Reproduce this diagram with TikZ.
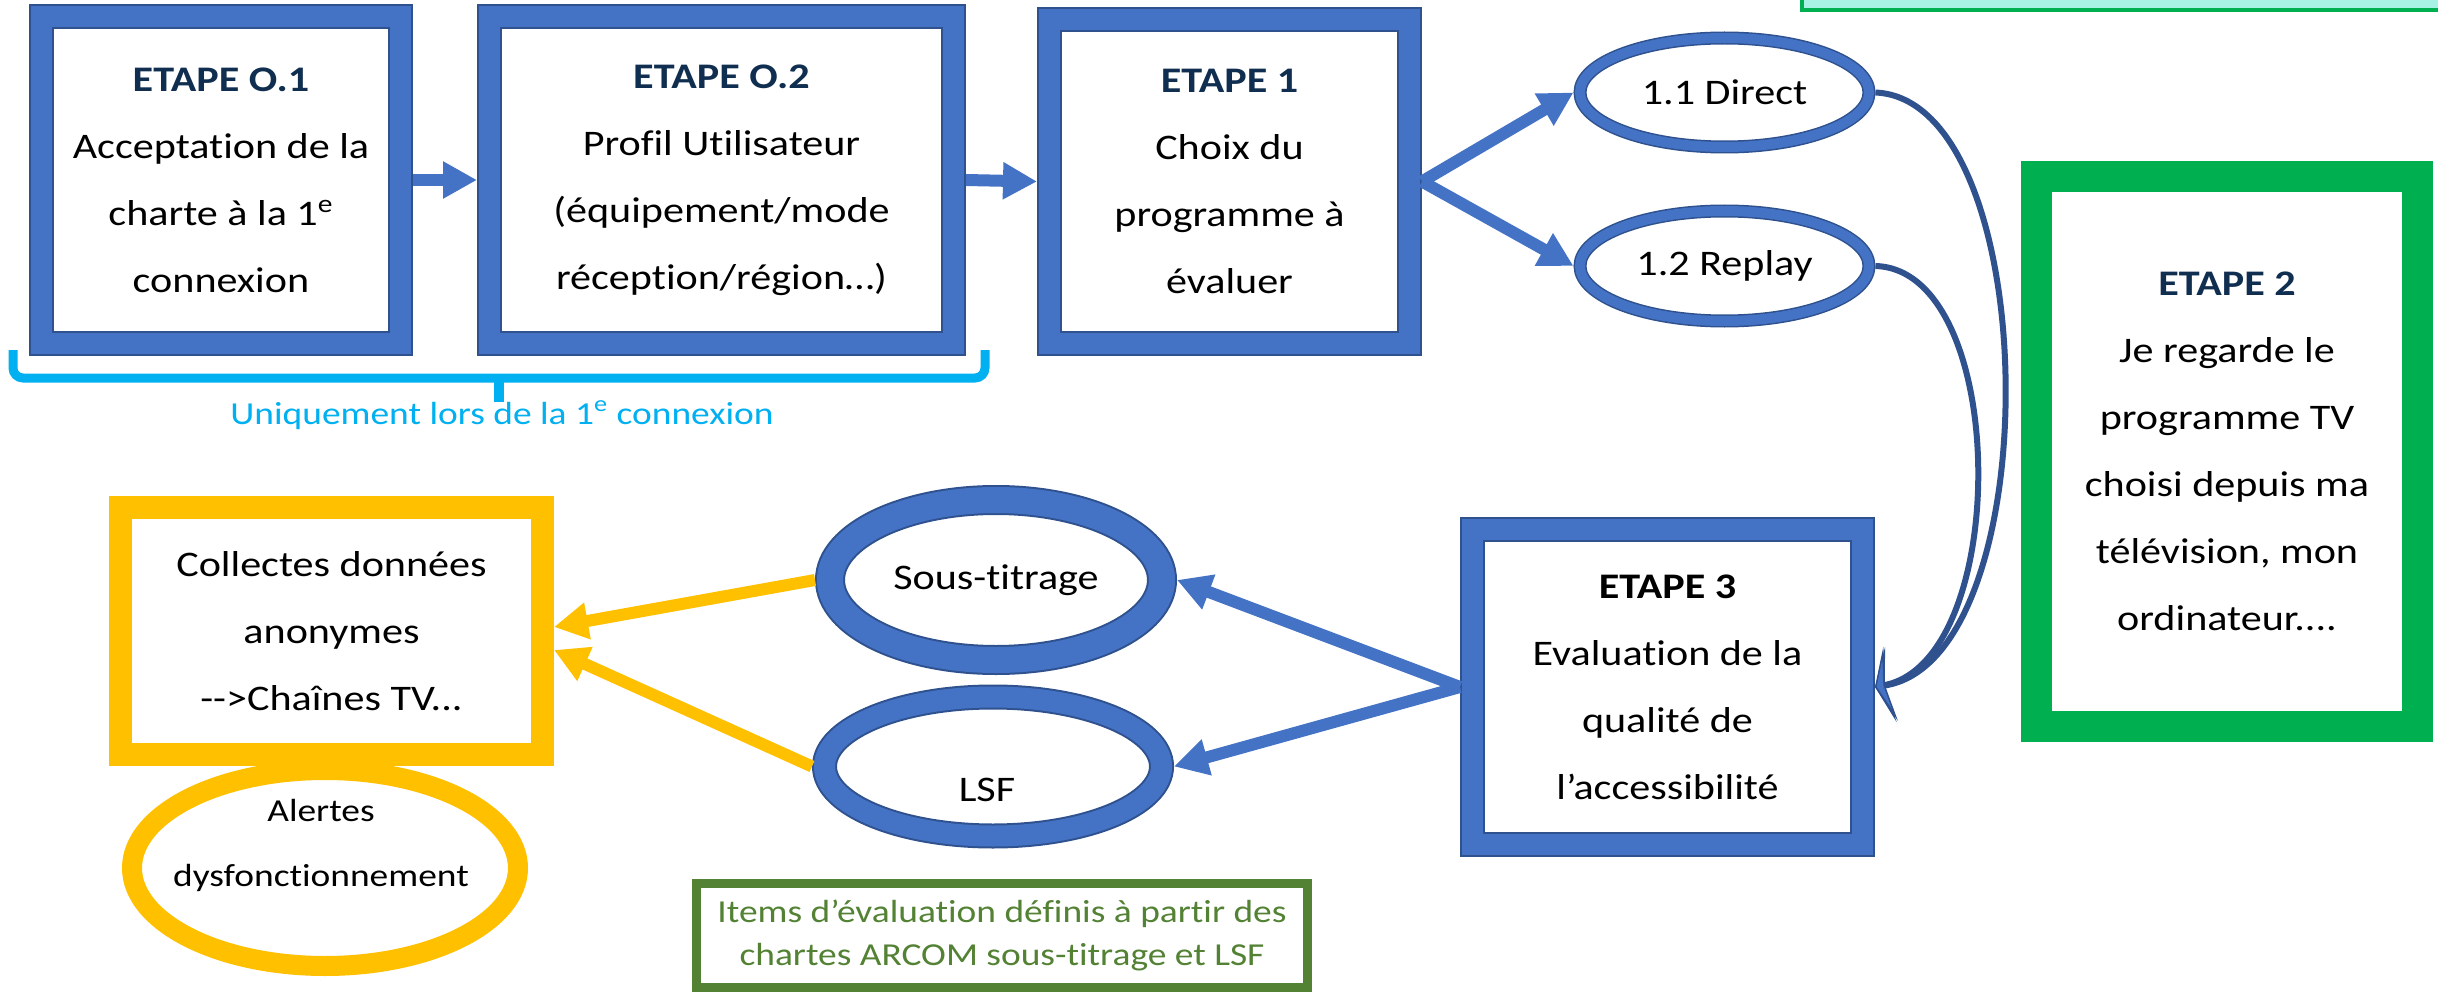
\documentclass[tikz,border=0pt]{standalone}
\usepackage{fontspec}
\setmainfont{Carlito}[FakeStretch=1.17,Ligatures=NoCommon]
\usetikzlibrary{arrows.meta,shapes.geometric}
\definecolor{bleu}{RGB}{68,114,196}
\definecolor{bleuF}{RGB}{47,82,143}
\definecolor{marine}{RGB}{16,46,80}
\definecolor{vert}{RGB}{0,176,80}
\definecolor{jaune}{RGB}{255,192,0}
\definecolor{ciel}{RGB}{0,176,240}
\definecolor{kaki}{RGB}{84,130,53}
\definecolor{turq}{RGB}{168,241,229}
\tikzset{
    TX/.style ={align=center,font=\fontsize{18}{33.5}\selectfont},
    TP/.style ={align=center,font=\fontsize{16}{32.5}\selectfont},
    BX/.style ={rectangle,TX,draw=bleuF,double=bleu,double distance=10.5pt,line width=1pt,outer sep=6.25pt},
    GX/.style ={rectangle,TX,draw=vert,line width=15.5pt},
    YX/.style ={rectangle,TX,draw=jaune,line width=11.5pt},
    EL1/.style ={ellipse,TX,inner sep=0pt,draw=bleuF,double=bleu,double distance=5pt,line width=0.75pt,outer sep=3.25pt},
    EL2/.style ={ellipse,TX,inner sep=0pt,draw=bleuF,double=bleu,double distance=13pt,line width=1pt,outer sep=7.5pt},
    EY/.style ={ellipse,inner sep=0pt,draw=jaune,line width=10pt},
    AR/.style ={draw=bleu,line width=6pt,-{Triangle[length=17pt,width=17.5pt]}},
    AY/.style ={draw=jaune,line width=6pt,-{Triangle[length=17pt,width=17.5pt]}},
    CU/.style ={draw=bleuF,line width=3pt,-{Stealth[length=8pt,width=38pt,inset=3pt,fill=bleu,line width=0.75pt]}}}
\begin{document}
\begin{tikzpicture}[x=0.5pt,y=-0.5pt]
        \fill[white] (0,0) rectangle (2438,1006);
        \useasboundingbox (0,0) rectangle (2438,1006);
        \clip (0,0) rectangle (2438,1006);
        \draw[vert,fill=turq,line width=2pt] (1802,-20) rectangle (2460,10);
        \node[BX,minimum width=179.5pt,minimum height=163.5pt] (E01) at(221,180){\textcolor{marine}{\textbf{ETAPE O.1}}\\Acceptation de la\\charte à la 1\textsuperscript{e}\\connexion};
        \node[BX,minimum width=232pt,minimum height=163.5pt] (E02) at(721.5,180){\textcolor{marine}{\textbf{ETAPE O.2}}\\Profil Utilisateur\\(équipement/mode\\réception/région…)};
        \node[BX,minimum width=180pt,minimum height=162pt] (E1) at(1229.5,181.5){\textcolor{marine}{\textbf{ETAPE 1}}\\Choix du\\programme à\\évaluer};
        \node[EL1,minimum width=144.5pt,minimum height=54.5pt] (D) at(1724.5,92.5){1.1 Direct};
        \node[EL1,minimum width=144.5pt,minimum height=55pt] (R) at(1724.5,266){1.2 Replay};
        \node[GX,minimum width=190.5pt,minimum height=275pt] (E2) at(2227,451.5){\textcolor{marine}{\textbf{ETAPE 2}}\\Je regarde le\\programme TV\\choisi depuis ma\\télévision, mon\\ordinateur....};
        \node[BX,minimum width=195pt,minimum height=157.5pt] (E3) at(1667.5,687){\textbf{ETAPE 3}\\Evaluation de la\\qualité de\\l’accessibilité};
        \node[EL2,minimum width=166pt,minimum height=80pt] (S) at(996,580){Sous-titrage};
        \node[EL2,double distance=10.5pt,outer sep=6.25pt,minimum width=168.5pt,minimum height=69.5pt] (L) at(993,766.5){};
        \node[TX] (Lt) at(987,790){LSF};
        \node[EY,minimum width=193pt,minimum height=98pt] (AL) at(325,868){};
        \node[TP] (ALt) at(321,845){Alertes\\dysfonctionnement};
        \node[YX,minimum width=211pt,minimum height=123.5pt] (YB) at(331.5,631){Collectes données\\anonymes\\-{}-{}>Chaînes TV...};
        \node[TP,font=\fontsize{16}{21.5}\selectfont,draw=kaki,line width=4.5pt,text=kaki,minimum width=305.5pt,minimum height=52pt] (ITM) at(1002,935.5){Items d’évaluation définis à partir des\\chartes ARCOM sous-titrage et LSF};
        \node[TP,text=ciel] (UNQ) at(502,415){Uniquement lors de la 1\textsuperscript{e} connexion};
        \draw[ciel,line width=4.5pt,rounded corners=5pt] (13,350) -- (13,378) -- (985,378) -- (985,350);
        \draw[ciel,line width=5pt] (499,378) -- (499,402);
        \draw[AR] (E01) -- (E02);
        \draw[AR] (E02.east) -- (E1.west);
        \draw[AR] (E1.east) -- (D.west);
        \draw[AR] (E1.east) -- (R.west);
        \draw[AR] (E3.west) -- (S.east);
        \draw[AR] (E3.west) -- (L.east);
        \draw[AY] (S.west) -- ([yshift=2pt]YB.east);
        \draw[AY] (L.west) -- ([yshift=-9.5pt]YB.east);
        \draw[CU] (D.east) .. controls (2045,100) and (2050,660) .. (E3.east);
        \draw[CU] (R.east) .. controls (2010,270) and (2012,660) .. (E3.east);
    \end{tikzpicture}
\end{document}
